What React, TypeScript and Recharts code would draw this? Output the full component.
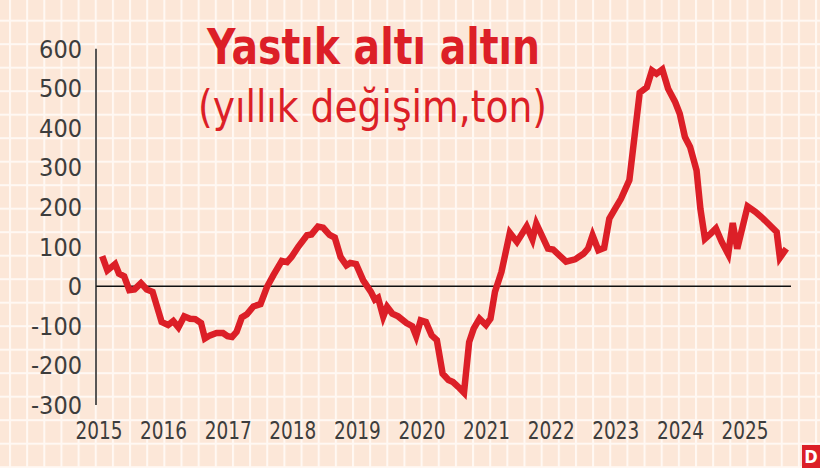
import React from 'react';
import { LineChart, Line, XAxis, YAxis, ReferenceLine } from 'recharts';

// position along the time axis (fractional year) and yearly change in tonnes
const timePoints = [
  2015.05, 2015.13, 2015.25, 2015.31, 2015.39, 2015.47, 2015.55, 2015.65, 2015.74, 2015.83,
  2015.97, 2016.07, 2016.15, 2016.23, 2016.32, 2016.41, 2016.49, 2016.58, 2016.64, 2016.72,
  2016.82, 2016.92, 2016.99, 2017.06, 2017.13, 2017.21, 2017.29, 2017.39, 2017.5, 2017.6,
  2017.7, 2017.83, 2017.91, 2017.98, 2018.09, 2018.22, 2018.29, 2018.39, 2018.47, 2018.57,
  2018.65, 2018.74, 2018.83, 2018.89, 2018.98, 2019.09, 2019.21, 2019.27, 2019.32, 2019.4,
  2019.46, 2019.54, 2019.63, 2019.76, 2019.85, 2019.91, 2019.98, 2020.06, 2020.15, 2020.23,
  2020.32, 2020.41, 2020.48, 2020.56, 2020.65, 2020.73, 2020.8, 2020.89, 2020.99, 2021.06,
  2021.13, 2021.23, 2021.36, 2021.47, 2021.62, 2021.71, 2021.77, 2021.95, 2022.03, 2022.23,
  2022.37, 2022.5, 2022.57, 2022.64, 2022.73, 2022.82, 2022.9, 2022.99, 2023.08, 2023.21,
  2023.37, 2023.48, 2023.56, 2023.63, 2023.72, 2023.81, 2023.92, 2023.99, 2024.07, 2024.15,
  2024.25, 2024.31, 2024.38, 2024.47, 2024.55, 2024.64, 2024.74, 2024.81, 2024.88, 2025.04,
  2025.16, 2025.28, 2025.49, 2025.54, 2025.64,
];

const goldChange = [
  76, 40, 56, 32, 25, -10, -8, 8, -8, -14,
  -90, -98, -88, -104, -76, -82, -83, -93, -132, -124,
  -118, -118, -126, -128, -115, -79, -71, -51, -45, -2,
  28, 64, 61, 74, 101, 129, 131, 151, 148, 130,
  123, 74, 53, 59, 56, 15, -14, -34, -29, -77,
  -52, -69, -76, -93, -101, -126, -86, -90, -124, -136,
  -221, -237, -242, -254, -269, -141, -107, -82, -98, -82,
  -14, 36, 135, 112, 151, 118, 158, 95, 93, 62,
  68, 82, 95, 129, 91, 97, 171, 196, 221, 268,
  489, 503, 545, 537, 548, 499, 465, 436, 377, 352,
  293, 195, 120, 133, 146, 112, 81, 160, 95, 202,
  188, 171, 137, 72, 95,
];

const yearTicks = [2015, 2016, 2017, 2018, 2019, 2020, 2021, 2022, 2023, 2024, 2025];
const valueTicks = [-300, -200, -100, 0, 100, 200, 300, 400, 500, 600];

const data = timePoints.map((t, i) => ({ t, v: goldChange[i] }));

const FONT = '"Liberation Sans Narrow", "DejaVu Sans Condensed", "Open Sans", sans-serif';
const RED = '#dc1f27';
const BG = '#fce7d8';
const INK = '#3d3d3d';

const tickStyle = { fontSize: 25, fill: INK, fontFamily: FONT };

// year labels are narrower in the original, squeeze them a bit
const YearTick = (props: any) => {
  const { x, y, payload } = props;
  return (
    <text x={x} y={y} dy="0.71em" textAnchor="middle" fontSize={25} fill={INK} fontFamily={FONT}
      textLength={47} lengthAdjust="spacingAndGlyphs">
      {payload.value}
    </text>
  );
};

export default function App() {
  return (
    <div style={{ position: 'absolute', left: 0, top: 0, width: 820, height: 468, background: BG, overflow: 'hidden' }}>
      {/* graph-paper background */}
      <svg width={820} height={468} style={{ position: 'absolute', left: 0, top: 0 }}>
        <defs>
          <pattern id="grid" patternUnits="userSpaceOnUse" width={17.15} height={23.5} x={9} y={19.7}>
            <rect x={0} y={0} width={2} height={23.5} fill="#fff8f3" />
            <rect x={0} y={0} width={17.15} height={2} fill="#fff8f3" />
          </pattern>
        </defs>
        <rect x={0} y={0} width={820} height={468} fill="url(#grid)" />
      </svg>

      <div style={{ position: 'absolute', left: 0, top: 0 }}>
        <LineChart width={820} height={468} data={data} margin={{ top: 48.8, right: 29, bottom: 33, left: 0 }}>
          <XAxis
            type="number"
            dataKey="t"
            domain={[2014.954, 2025.712]}
            ticks={yearTicks}
            interval={0}
            axisLine={false}
            tickLine={false}
            tickSize={6}
            tickMargin={10}
            height={30}
            tick={<YearTick />}
            allowDataOverflow
          />
          <YAxis
            type="number"
            domain={[-300, 600]}
            ticks={valueTicks}
            interval={0}
            width={96}
            axisLine={{ stroke: '#222', strokeWidth: 1.5 }}
            tickLine={false}
            tickSize={6}
            tickMargin={8}
            tick={tickStyle}
          />
          <ReferenceLine y={0} stroke="#111" strokeWidth={1.5} />
          <Line
            type="linear"
            dataKey="v"
            stroke={RED}
            strokeWidth={6.5}
            strokeLinejoin="miter"
            dot={false}
            activeDot={false}
            isAnimationActive={false}
          />
        </LineChart>
      </div>

      {/* title block and logo */}
      <svg width={820} height={468} style={{ position: 'absolute', left: 0, top: 0, pointerEvents: 'none' }}>
        <text x={207} y={64} fontSize={49} fontWeight={700} fill={RED} fontFamily={FONT} textLength={333} lengthAdjust="spacingAndGlyphs">
          Yastık altı altın
        </text>
        <text x={198} y={122} fontSize={45} fill={RED} fontFamily={FONT} textLength={349} lengthAdjust="spacingAndGlyphs">
          (yıllık değişim,ton)
        </text>
        <rect x={802} y={445} width={18} height={23} fill={RED} />
        <text x={811} y={463} fontSize={18} fontWeight={700} fill="#fff" fontFamily={FONT} textAnchor="middle">D</text>
      </svg>
    </div>
  );
}
